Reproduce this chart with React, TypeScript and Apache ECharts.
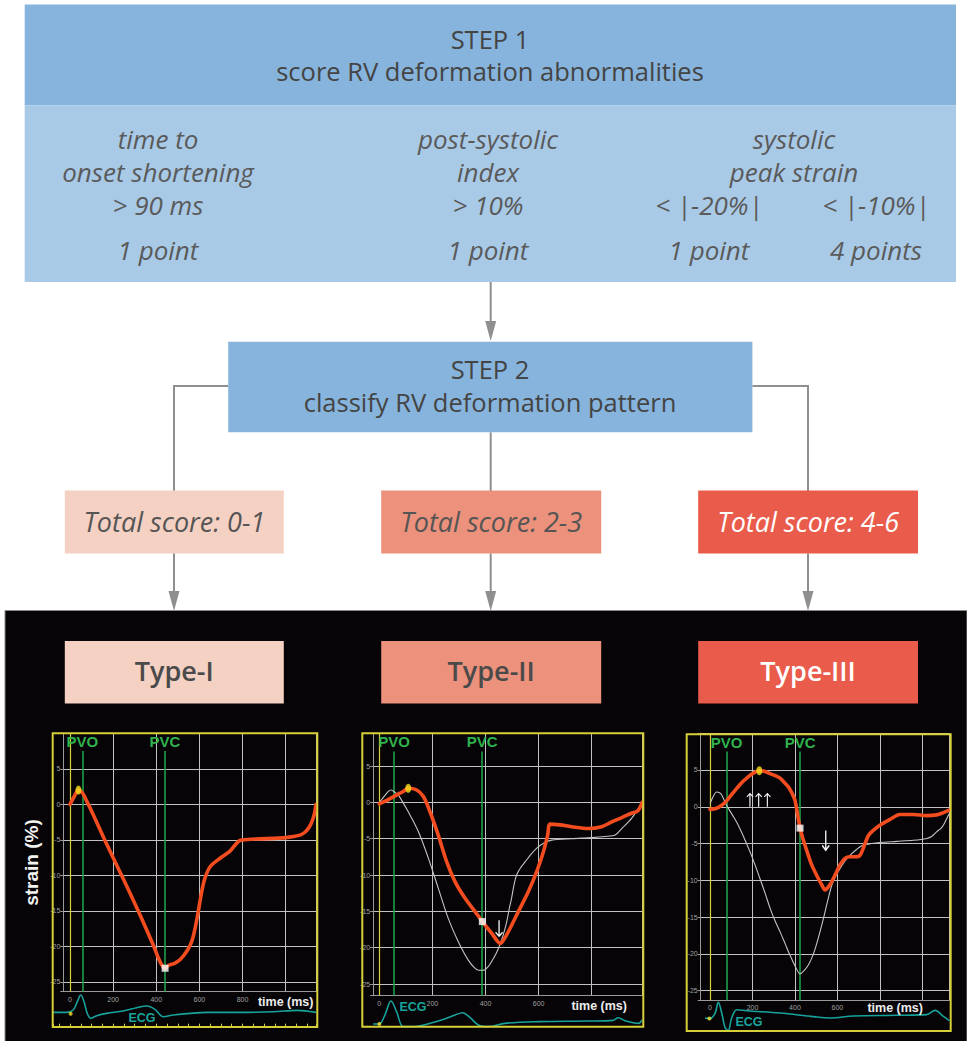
import React, { useEffect, useRef } from 'react';
import * as echarts from 'echarts';

// ---------------- texts ----------------
const step1Title = ['STEP 1', 'score RV deformation abnormalities'];
const step2Title = ['STEP 2', 'classify RV deformation pattern'];
const criteriaNames = [['time to', 'onset shortening'], ['post-systolic', 'index'], ['systolic', 'peak strain']];
const criteriaThresholds = ['> 90 ms', '> 10%', '< |-20%|', '< |-10%|'];
const criteriaPoints = ['1 point', '1 point', '1 point', '4 points'];
const scoreLabels = ['Total score: 0-1', 'Total score: 2-3', 'Total score: 4-6'];
const typeLabels = ['Type-I', 'Type-II', 'Type-III'];
const strainTickLabels = [-25, -20, -15, -10, -5, 0, 5];
const timeTickLabels = [[0, 200, 400, 600, 800], [0, 200, 400, 600], [0, 200, 400, 600]];
const eventNames = ['PVO', 'PVC'];

// ---------------- data: [time (ms), strain (%)] ----------------
const typeIStrain = [
  [0, 0], [20, 1.1], [39, 2.0], [59, 1.55], [80, 0.3], [110, -1.6], [170, -5.6], [247, -10.5], [325, -15.6],
  [387, -19.9], [418, -22.2], [441, -23.1], [457, -22.7], [485, -22.4], [510, -21.9], [541, -20.75], [565, -19.3],
  [580, -17.5], [595, -15.1], [611, -12.3], [626, -10.4], [650, -8.8], [696, -7.6], [742, -6.6], [789, -5.1],
  [860, -4.9], [944, -4.8], [1000, -4.7], [1036, -4.55], [1070, -4.3], [1091, -3.9], [1110, -3.2], [1124, -2.3],
  [1134, -1.3], [1141, 0],
];
const typeIIStrain = [
  [0, -0.2], [30, 0.3], [59, 0.9], [90, 1.5], [109, 1.93], [141, 1.7], [166, 0.8], [191, -1.3], [222, -4.5],
  [254, -8.2], [285, -10.9], [323, -13.2], [360, -15], [388, -16.4], [423, -18], [445, -19.1], [457, -19.4],
  [470, -18.8], [486, -17.8], [524, -15], [561, -12.3], [593, -9.5], [618, -6.8], [634, -4.5], [643, -3.0],
  [680, -3.1], [724, -3.35], [787, -3.6], [837, -3.35], [875, -2.7], [913, -2.1], [950, -1.5], [973, -1.2], [990, 0],
];
const typeIIReference = [
  [0, 0], [20, 0.9], [34, 1.5], [44, 1.7], [58, 1.4], [72, 1.0], [109, -1.3], [147, -4], [185, -7.7], [222, -11.8],
  [260, -16], [298, -19.2], [335, -21.7], [360, -22.8], [375, -23.1], [392, -23.1], [410, -22.6], [423, -21.9],
  [440, -20.8], [454, -19.6], [467, -18.2], [480, -16.4], [490, -14.5], [498, -13.2], [508, -11.2], [517, -10],
  [532, -9], [549, -8.2], [570, -7.2], [593, -6.3], [620, -5.6], [649, -5.2], [724, -5], [800, -4.85], [850, -4.7],
  [888, -4.5], [913, -3.6], [950, -2.2], [990, 0],
];
const typeIIIStrain = [
  [0, -0.35], [31, -0.2], [55, 0.2], [78, 0.8], [100, 1.6], [126, 2.5], [150, 3.3], [173, 3.9], [200, 4.5],
  [232, 4.9], [260, 4.8], [283, 4.5], [310, 4.2], [330, 3.9], [350, 3.3], [369, 2.7], [385, 1.9], [400, 0.9],
  [412, -1.0], [424, -2.9], [435, -4.1], [447, -5.2], [463, -6.6], [479, -7.9], [495, -8.9], [510, -9.75],
  [526, -10.6], [542, -11.3], [557, -10.9], [573, -10.2], [597, -8.8], [612, -7.9], [636, -7.0], [659, -6.8],
  [683, -6.8], [706, -6.6], [730, -5.0], [746, -3.9], [769, -3.2], [800, -2.5], [848, -1.7], [895, -1.05],
  [958, -1.05], [1020, -1.2], [1067, -1.1], [1099, -0.8], [1127, -0.45],
];
const typeIIIReference = [
  [0, 0.45], [15, 1.4], [31, 2.0], [45, 1.9], [55, 1.6], [78, 0.2], [105, -1.1], [133, -2.5], [160, -4.2],
  [188, -6.1], [212, -7.9], [235, -9.75], [260, -11.8], [283, -13.8], [306, -15.5], [330, -17], [355, -18.7],
  [377, -20.2], [400, -21.6], [424, -22.7], [445, -22.2], [463, -21.5], [480, -20.5], [495, -19.3], [515, -17.3],
  [534, -15.2], [553, -12.9], [573, -10.7], [592, -9.4], [612, -8.4], [635, -7.4], [659, -6.6], [690, -5.8],
  [722, -5.2], [760, -5.0], [800, -4.85], [880, -4.7], [958, -4.55], [1020, -4.3], [1045, -4.0], [1067, -3.4],
  [1085, -3.0], [1099, -2.5], [1115, -1.6], [1127, -0.9],
];

// ECG traces: [time (ms), amplitude (a.u.)]
const typeIEcg = [
  [-77, 0], [-15, 0], [15, 0.7], [34, 3.2], [50, 5.2], [65, 3.2], [80, -0.3], [96, -1.8], [124, -1.0], [170, -0.3],
  [247, 0.4], [309, 1.4], [356, 1.9], [394, 0.9], [433, -1.3], [480, -0.8], [557, -0.3], [634, 0], [789, 0],
  [944, 0.2], [1052, 0.6], [1141, 0],
];
const typeIIEcg = [
  [-23, -0.2], [0, -0.2], [21, 2.5], [44, 6.7], [65, 3.5], [90, -1], [122, -1], [222, 0.7], [285, 2.5], [313, 3.2],
  [342, 1.7], [373, -0.5], [410, -1], [473, 0], [599, 0.5], [787, 0.7], [881, 0.9], [900, 1.7], [925, 0.8],
  [976, 0], [990, 1],
];
const typeIIIEcg = [
  [-24, -0.5], [0, -0.7], [24, 1], [39, 4.3], [55, 1], [71, -3.5], [86, -4.3], [102, -0.5], [126, 2], [173, 1.7],
  [330, 1], [487, -0.1], [565, -0.5], [675, 0.1], [879, 0.3], [1020, 0.5], [1060, 1.8], [1099, 0], [1127, -1.3],
];

// markers
const peakPoints = [[39, 2.0], [109, 1.93], [232, 4.9]];
const pvcPoints = [[441, -23.1], [388, -16.4], [424, -2.9]];
const ecgStartPoints = [[3, -0.4], [0, -0.2], [-3, -0.7]];
const valveEvents = [[57, 440], [56, 387], [78, 424]]; // PVO, PVC (ms)
const typeIIArrows = [[451, -17.4]];
const typeIIIDownArrows = [[545, -4.65]];
const typeIIIUpArrows = [[188, 0.95], [229, 0.95], [270, 0.95]];

// ---------------- layout & style ----------------
const FONT = '"Open Sans", "Noto Sans", sans-serif';
const MFONT = '"Liberation Sans", Arial, sans-serif';
const STEP_BLUE = '#87b4dc';
const LIGHT_BLUE = '#a9cae7';
const BOX_COLORS = ['#f4d1c2', '#ec917b', '#e95b4a'];
const BOX_TEXT = ['#555555', '#555555', '#ffffff'];
const TYPE_TEXT = ['#4a4a4a', '#4a4a4a', '#ffffff'];
const BOX_X = [[64.8, 283.8], [381.2, 601.2], [698.2, 918]];
const ARROW_X = [174, 490.7, 808];
const GRAY = '#8f8f8f';
const FRAME = '#d6cf3a';
const RED = '#f24c1f';
const GREEN_LINE = '#1fa048';
const GREEN_TEXT = '#2fb34d';
const ARROW_PATH = 'path://M5,0 L7,0 L7,20 L10.6,16.2 L12,17.6 L6,24 L0,17.6 L1.4,16.2 L5,20 Z';

const panelLayout = [
  { frame: [52.7, 733.3, 317.3, 1027], plot: [63.3, 733.3, 316, 991.7], ecgBox: [53, 991.7, 316, 1026.7], x: [-31, 1141], y: [-26.4, 10], ecgY: [-4.3, 6.2], labelTop: 7.5, time: [313.5, 1002], ecgText: [142, 1018], ecgTicks: true },
  { frame: [362.3, 733.3, 643.3, 1026.7], plot: [373.2, 733.3, 642.2, 995.7], ecgBox: [373.2, 995.7, 642.2, 1027], x: [-23, 990], y: [-26.6, 9.5], ecgY: [-1.1, 8.3], labelTop: 7.0, time: [627, 1006], ecgText: [413, 1007], ecgTicks: false },
  { frame: [686.7, 734.3, 950.7, 1031], plot: [700.7, 733.2, 949.3, 1000.3], ecgBox: [700.7, 1000.3, 949.3, 1031], x: [-44, 1127], y: [-26.3, 10], ecgY: [-4.5, 4.9], labelTop: 7.5, time: [923, 1008], ecgText: [749, 1022], ecgTicks: false },
];

const panels = [
  { strain: typeIStrain, reference: null as any, ecg: typeIEcg, arrows: [] as any[], upArrows: [] as any[] },
  { strain: typeIIStrain, reference: typeIIReference, ecg: typeIIEcg, arrows: typeIIArrows, upArrows: [] as any[] },
  { strain: typeIIIStrain, reference: typeIIIReference, ecg: typeIIIEcg, arrows: typeIIIDownArrows, upArrows: typeIIIUpArrows },
];

function text(t: string, x: number, y: number, font: string, fill: string, extra: any = {}) {
  return {
    type: 'text', x, y, z: 20, ...extra,
    style: { text: t, font, fill, align: extra.align || 'center', textAlign: extra.align || 'center', verticalAlign: 'middle', textVerticalAlign: 'middle' },
  };
}
function rect(x: number, y: number, w: number, h: number, fill: string, z = 1) {
  return { type: 'rect', z, shape: { x, y, width: w, height: h }, style: { fill } };
}
function seg(x1: number, y1: number, x2: number, y2: number, z = 2) {
  return { type: 'line', z, shape: { x1, y1, x2, y2 }, style: { stroke: GRAY, lineWidth: 2 } };
}
function head(x: number, tip: number, z = 3) {
  return { type: 'polygon', z, shape: { points: [[x - 5.5, tip - 20], [x + 5.5, tip - 20], [x, tip]] }, style: { fill: GRAY } };
}

function buildGraphics() {
  const g: any[] = [];
  // STEP 1
  g.push(rect(24.7, 4.5, 931.3, 101, STEP_BLUE));
  g.push(rect(24.7, 105.5, 931.3, 176.5, LIGHT_BLUE));
  g.push(text(step1Title[0], 490, 39, `25.5px ${FONT}`, '#444444'));
  g.push(text(step1Title[1], 490, 71, `25.5px ${FONT}`, '#444444'));
  const nameX = [158, 488, 794];
  const it = `italic 26px ${FONT}`;
  criteriaNames.forEach((lines, i) => {
    g.push(text(lines[0], nameX[i], 138.5, it, '#5a5a5a'));
    g.push(text(lines[1], nameX[i], 171.5, it, '#5a5a5a'));
  });
  const colX = [158, 488, 709, 876];
  criteriaThresholds.forEach((t, i) => g.push(text(t, colX[i], 204.5, it, '#5a5a5a')));
  criteriaPoints.forEach((t, i) => g.push(text(t, colX[i], 250, it, '#5a5a5a')));
  // arrow to step 2
  g.push(seg(490.7, 282, 490.7, 322));
  g.push(head(490.7, 341));
  // STEP 2
  g.push(rect(228.2, 341.7, 524.2, 90.6, STEP_BLUE));
  g.push(text(step2Title[0], 490, 369, `25.5px ${FONT}`, '#444444'));
  g.push(text(step2Title[1], 490, 402, `25.5px ${FONT}`, '#444444'));
  g.push({ type: 'polyline', z: 0, shape: { points: [[228.2, 386], [174, 386], [174, 491]] }, style: { stroke: GRAY, lineWidth: 2, fill: 'none' } });
  g.push({ type: 'polyline', z: 0, shape: { points: [[752.4, 386], [808, 386], [808, 491]] }, style: { stroke: GRAY, lineWidth: 2, fill: 'none' } });
  g.push(seg(490.7, 432.3, 490.7, 491, 0));
  // score boxes
  BOX_X.forEach(([a, b], i) => {
    g.push(rect(a, 490.5, b - a, 63, BOX_COLORS[i]));
    g.push(text(scoreLabels[i], (a + b) / 2, 521, `italic 27px ${FONT}`, BOX_TEXT[i]));
    g.push(seg(ARROW_X[i], 553.5, ARROW_X[i], 592, 3));
    g.push(head(ARROW_X[i], 611, 4));
  });
  // black panel
  g.push({ type: 'rect', z: -5, shape: { x: 5, y: 610.5, width: 962, height: 431 }, style: { fill: '#060407', stroke: '#8a8a8a', lineWidth: 1 } });
  BOX_X.forEach(([a, b], i) => {
    g.push(rect(a, 641, b - a, 62.5, BOX_COLORS[i], 2));
    g.push(text(typeLabels[i], (a + b) / 2, 670, `600 27px ${FONT}`, TYPE_TEXT[i]));
  });
  g.push(text('strain (%)', 31, 862.5, `bold 19px ${MFONT}`, '#f2f2f2', { rotation: Math.PI / 2 }));
  panelLayout.forEach((L) => {
    const [x1, y1, x2, y2] = L.frame;
    g.push({ type: 'rect', z: 30, shape: { x: x1, y: y1, width: x2 - x1, height: y2 - y1 }, style: { fill: 'none', stroke: FRAME, lineWidth: 2 } });
    g.push(text('time (ms)', L.time[0], L.time[1], `bold 12.5px ${MFONT}`, '#ececec', { align: 'right' }));
    g.push(text('ECG', L.ecgText[0], L.ecgText[1], `bold 12.5px ${MFONT}`, '#19a59c'));
  });
  return g;
}

function buildOption() {
  const grid: any[] = [];
  const xAxis: any[] = [];
  const yAxis: any[] = [];
  const series: any[] = [];
  panelLayout.forEach((L, i) => {
    const [pl, pt, pr, pb] = L.plot;
    grid.push({ left: pl, top: pt, width: pr - pl, height: pb - pt });
    xAxis.push({
      type: 'value', gridIndex: i, min: L.x[0], max: L.x[1], minInterval: 200, maxInterval: 200,
      axisLine: { show: true, onZero: false, lineStyle: { color: '#9a9a9a', width: 1 } },
      axisTick: { show: false },
      axisLabel: { color: '#a0a0a0', fontSize: 7, margin: 4, fontFamily: MFONT, formatter: (v: number) => (timeTickLabels[i].includes(v) ? String(v) : '') },
      splitLine: { show: true, lineStyle: { color: '#c2c2c2', width: 1 } },
    });
    yAxis.push({
      type: 'value', gridIndex: i, min: L.y[0], max: L.y[1], minInterval: 5, maxInterval: 5,
      axisLine: { show: true, onZero: false, lineStyle: { color: '#9a9a9a', width: 1 } },
      axisTick: { show: true, length: 3, lineStyle: { color: '#9a9a9a' } },
      axisLabel: { color: '#a0a0a0', fontSize: 7, margin: 3, fontFamily: MFONT, formatter: (v: number) => (strainTickLabels.includes(v) ? String(v) : '') },
      splitLine: { show: true, lineStyle: { color: '#c2c2c2', width: 1 } },
    });
  });
  panelLayout.forEach((L, i) => {
    const [pl, , pr] = L.plot;
    const [el, et, er, eb] = L.ecgBox;
    const scale = (pr - pl) / (L.x[1] - L.x[0]);
    const exMin = L.x[0] - (pl - el) / scale;
    const exMax = L.x[1] + (er - pr) / scale;
    grid.push({ left: el, top: et, width: er - el, height: eb - et });
    xAxis.push({
      type: 'value', gridIndex: 3 + i, min: exMin, max: exMax, minInterval: 50, maxInterval: 50, show: L.ecgTicks,
      axisLine: { show: false, onZero: false }, axisLabel: { show: false }, splitLine: { show: false },
      axisTick: { show: true, inside: true, length: 3, lineStyle: { color: FRAME, width: 1 } },
    });
    yAxis.push({ type: 'value', gridIndex: 3 + i, min: L.ecgY[0], max: L.ecgY[1], show: false, splitLine: { show: false } });
  });

  panels.forEach((p, i) => {
    const L = panelLayout[i];
    const y0 = L.y[0] + 0.02;
    const y1 = L.y[1] - 0.02;
    const [pvo, pvc] = valveEvents[i];
    const evLabel = (name: string) => ({ show: true, formatter: name, position: 'end', distance: 2, color: GREEN_TEXT, fontWeight: 'bold', fontSize: 15, fontFamily: MFONT });
    const markPointData: any[] = [];
    p.arrows.forEach((a: number[]) => markPointData.push({ coord: a, symbolSize: i === 1 ? [8, 17] : [8, 21], symbolRotate: 0 }));
    p.upArrows.forEach((a: number[]) => markPointData.push({ coord: a, symbolSize: [7, 14], symbolRotate: 180 }));
    series.push({
      type: 'line', xAxisIndex: i, yAxisIndex: i, data: [], z: 1, silent: true,
      markLine: {
        z: 1, symbol: 'none', silent: true, animation: false,
        data: [
          [{ coord: [0, y0], lineStyle: { color: FRAME, width: 1.2, type: 'solid' }, label: { show: false } }, { coord: [0, y1] }],
          [{ coord: [pvo, y0], lineStyle: { color: GREEN_LINE, width: 1.6, type: 'solid' }, label: evLabel(eventNames[0]) }, { coord: [pvo, L.labelTop] }],
          [{ coord: [pvc, y0], lineStyle: { color: GREEN_LINE, width: 1.6, type: 'solid' }, label: evLabel(eventNames[1]) }, { coord: [pvc, L.labelTop] }],
        ],
      },
      markPoint: {
        z: 6, symbol: ARROW_PATH, silent: true, animation: false, itemStyle: { color: '#f4f4f4' }, label: { show: false },
        data: markPointData,
      },
    });
    if (p.reference) {
      series.push({
        type: 'line', xAxisIndex: i, yAxisIndex: i, data: p.reference, smooth: 0.3, showSymbol: false, symbol: 'none', z: 2,
        lineStyle: { color: '#c4c4c4', width: 1.1 },
      });
    }
    series.push({
      type: 'line', xAxisIndex: i, yAxisIndex: i, data: p.strain, smooth: 0.3, showSymbol: false, symbol: 'none', z: 3,
      lineStyle: { color: RED, width: 3.6, cap: 'round', join: 'round' },
    });
    series.push({
      type: 'scatter', xAxisIndex: i, yAxisIndex: i, z: 8,
      data: [
        { value: peakPoints[i], symbol: 'circle', symbolSize: [6, 9], itemStyle: { color: '#f7e21b' } },
        { value: pvcPoints[i], symbol: 'rect', symbolSize: [7, 7], itemStyle: { color: '#ffffff' } },
      ],
    });
    series.push({
      type: 'line', xAxisIndex: 3 + i, yAxisIndex: 3 + i, data: p.ecg, smooth: 0.35, showSymbol: false, symbol: 'none', z: 3,
      lineStyle: { color: '#17a39b', width: 1.6 },
    });
    series.push({
      type: 'scatter', xAxisIndex: 3 + i, yAxisIndex: 3 + i, z: 4, symbolSize: 4,
      data: [ecgStartPoints[i]], itemStyle: { color: '#f2e22a' },
    });
  });

  return {
    animation: false,
    backgroundColor: '#ffffff',
    grid, xAxis, yAxis, series,
    graphic: { elements: buildGraphics() },
  };
}

export default function App() {
  const ref = useRef<HTMLDivElement>(null);
  useEffect(() => {
    if (!ref.current) return;
    const chart = echarts.init(ref.current, undefined, { renderer: 'svg' });
    chart.setOption(buildOption() as any);
    return () => chart.dispose();
  }, []);
  return <div ref={ref} style={{ position: 'fixed', left: 0, top: 0, width: 967, height: 1041 }} />;
}
